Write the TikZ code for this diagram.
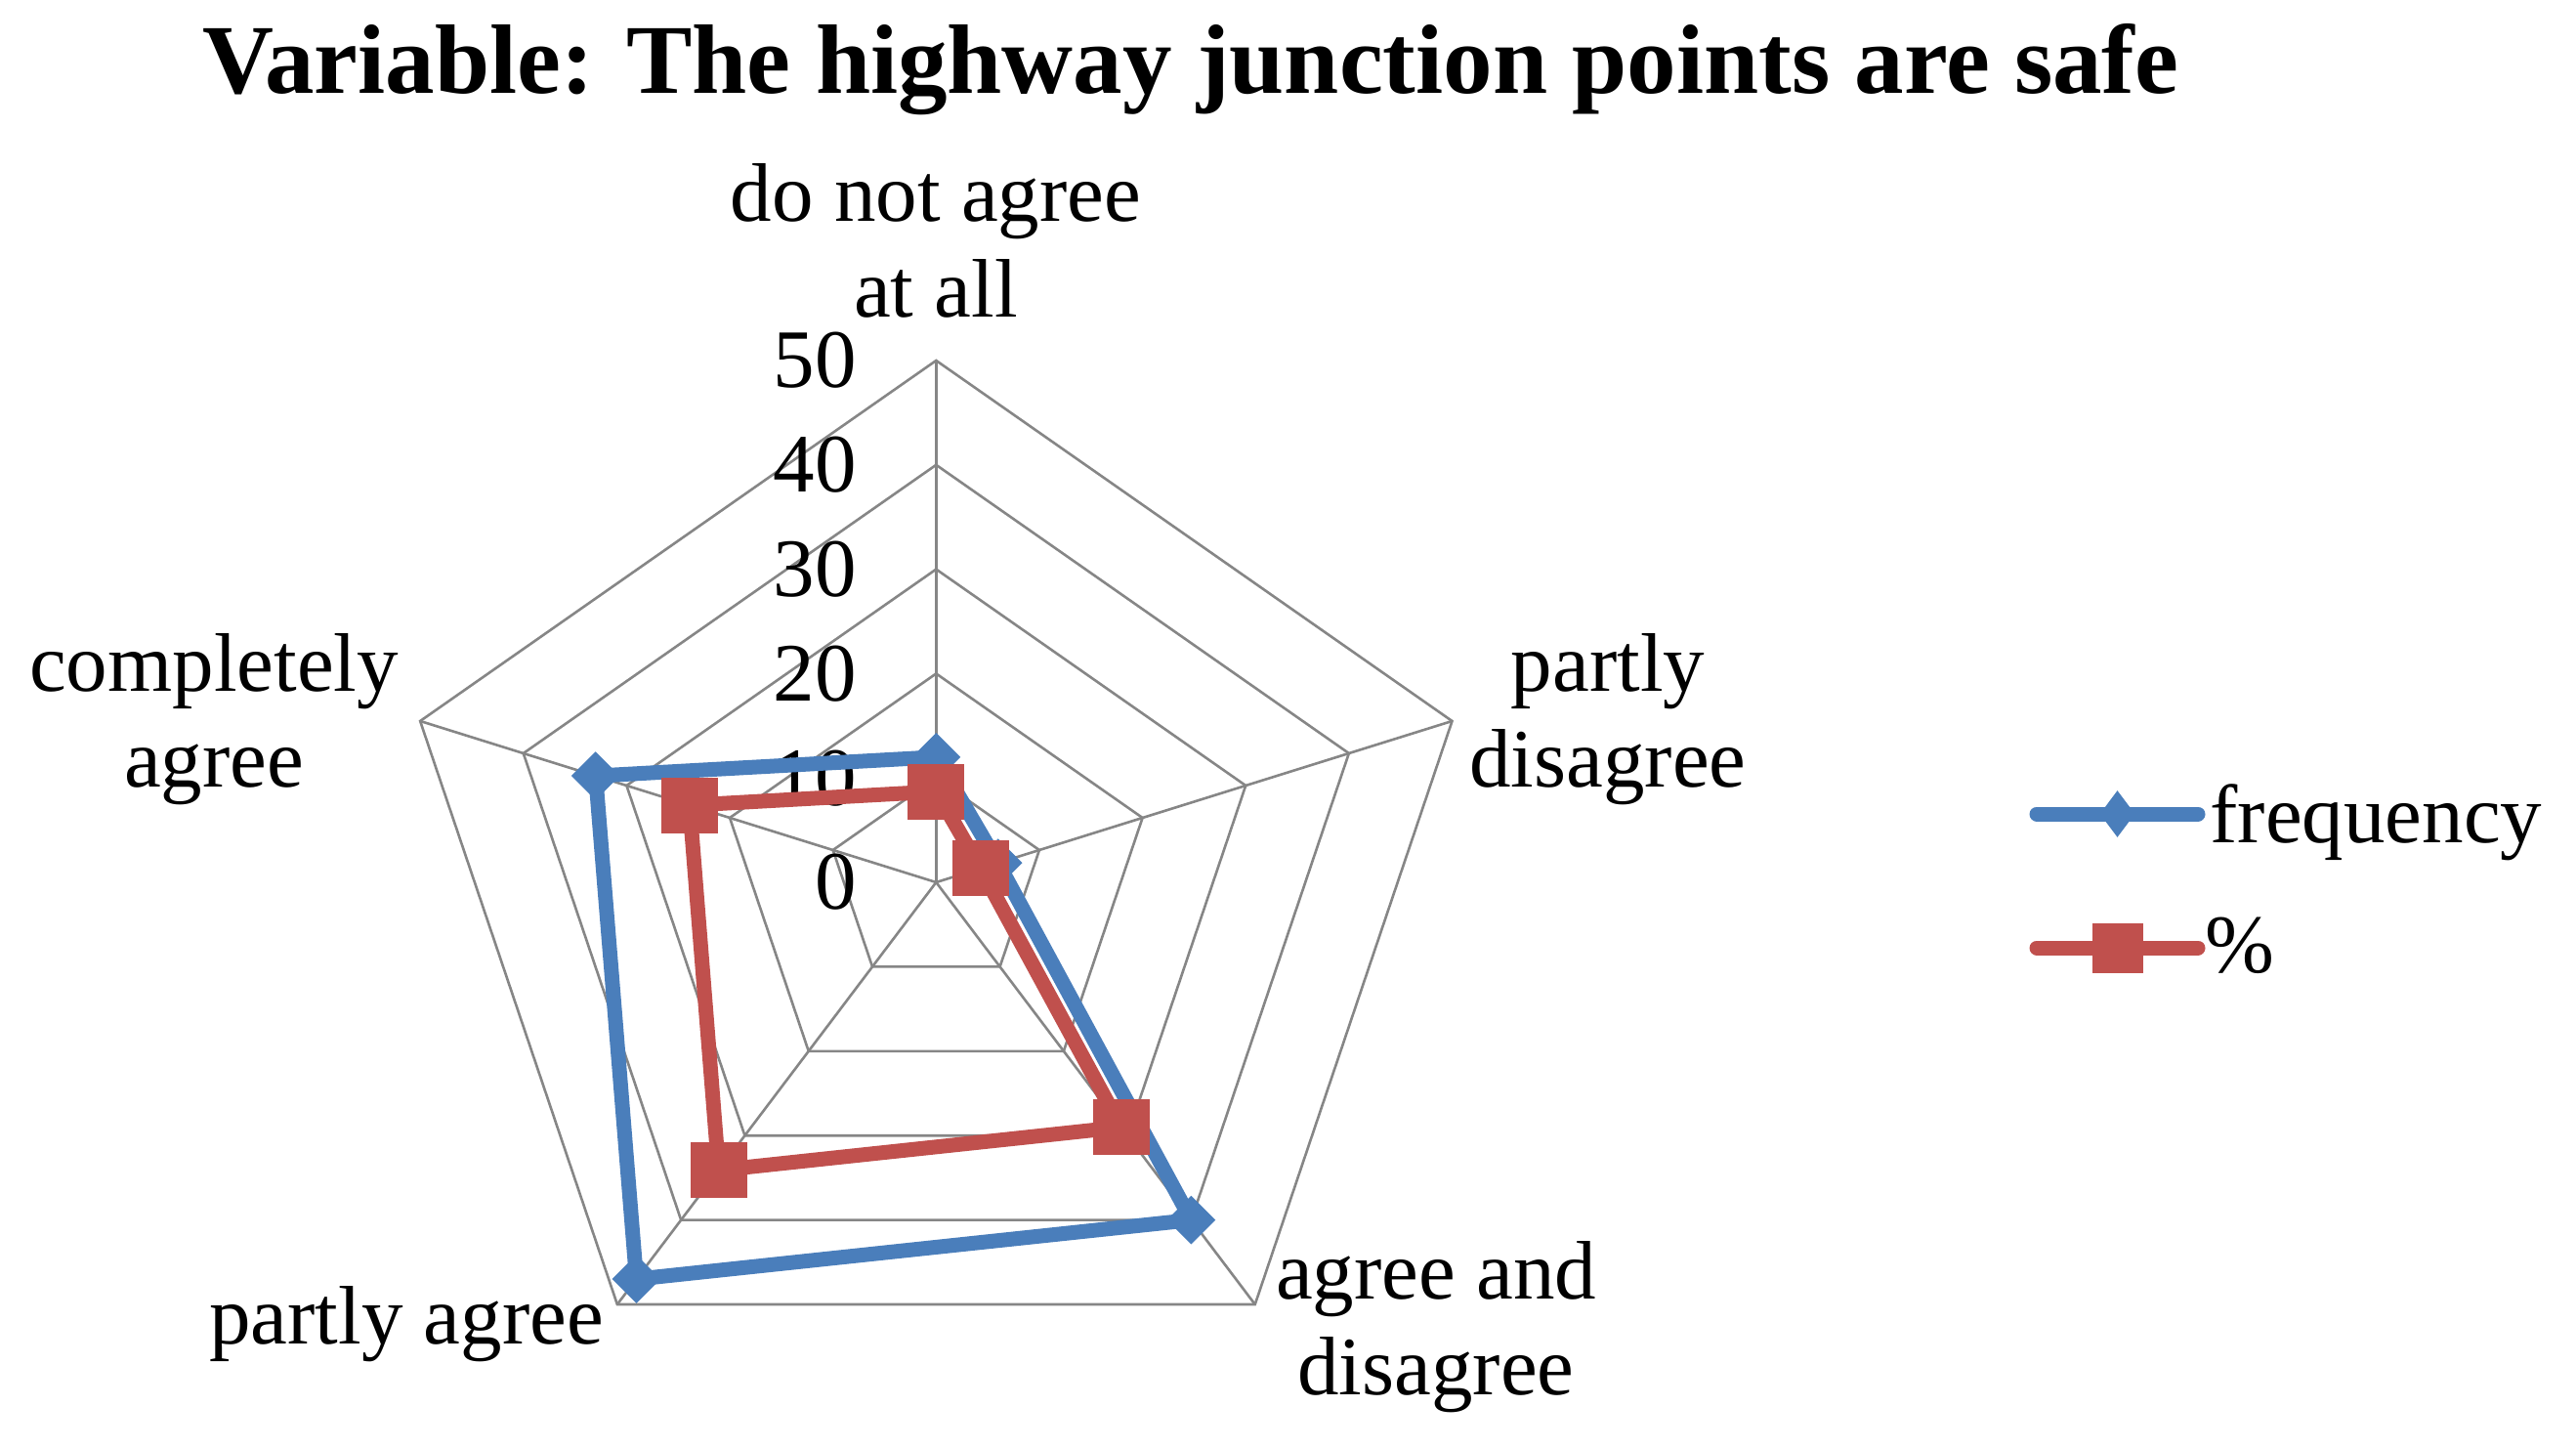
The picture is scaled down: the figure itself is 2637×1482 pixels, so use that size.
\documentclass[tikz,border=0pt]{standalone}
\usepackage{fontspec}
\setmainfont{Liberation Serif}
\usetikzlibrary{calc,shapes.geometric}

\definecolor{gridgray}{RGB}{134,134,134}
\definecolor{freqblue}{RGB}{74,126,187}
\definecolor{pctred}{RGB}{192,80,77}

\begin{document}
\begin{tikzpicture}[x=0.5pt, y=-0.5pt,
    grid/.style={draw=gridgray, line width=1.3pt},
    freq/.style={draw=freqblue, line width=7.5pt, line join=round},
    pct/.style={draw=pctred, line width=7.5pt, line join=round},
    freqmark/.style={diamond, fill=freqblue, inner sep=0pt,
      minimum width=25pt, minimum height=25pt},
    pctmark/.style={rectangle, fill=pctred, inner sep=0pt,
      minimum width=29pt, minimum height=28.5pt},
    label/.style={font=\fontsize{42.5}{49}\selectfont, align=center, inner sep=0pt},
    tick/.style={font=\fontsize{42.5}{49}\selectfont, inner sep=0pt, anchor=east}]
    \useasboundingbox (0,0) rectangle (2637,1482);
    \coordinate (c) at (958.3,903);
    % axes: angle / frequency / percent
    \foreach \a/\f/\p [count=\i] in {90/12/8.7, 18/6/4.3, -54/40/29.0,
        -126/47/34.1, 162/33/23.9} {
      \coordinate (v\i) at ({958.3+1.04*534*cos(\a)}, {903-534*sin(\a)});
      \coordinate (f\i) at ($(c)!\f/50!(v\i)$);
      \coordinate (p\i) at ($(c)!\p/50!(v\i)$);
      \draw[grid] (c) -- (v\i);
    }
    \foreach \k in {1,...,5}
      \draw[grid] ($(c)!\k/5!(v1)$) -- ($(c)!\k/5!(v2)$) -- ($(c)!\k/5!(v3)$)
        -- ($(c)!\k/5!(v4)$) -- ($(c)!\k/5!(v5)$) -- cycle;
    \foreach \n [count=\k from 0] in {0,10,20,30,40,50}
      \node[tick] (t\k) at (877, {903-\k*106.8}) {\n};
    % series
    \draw[freq] (f1) -- (f2) -- (f3) -- (f4) -- (f5) -- cycle;
    \foreach \i in {1,...,5} \node[freqmark] (fm\i) at (f\i) {};
    \draw[pct] (p1) -- (p2) -- (p3) -- (p4) -- (p5) -- cycle;
    \foreach \i in {1,...,5} \node[pctmark] (pm\i) at (p\i) {};
    % category labels (base = last line)
    \node[label, anchor=base] (l1) at (958,324) {do not agree\\at all};
    \node[label, anchor=base] (l2) at (1646,805) {partly\\disagree};
    \node[label, anchor=base] (l3) at (1470,1427) {agree and\\disagree};
    \node[label, anchor=base] (l4) at (416,1375) {partly agree};
    \node[label, anchor=base] (l5) at (219,805) {completely\\agree};
    % title
    \node[font=\fontsize{50.5}{58}\selectfont\bfseries, inner sep=0pt, anchor=base]
      (title) at (1219,96) {Variable: The highway junction points are safe};
    % legend
    \coordinate (lf1) at (2085,833);
    \coordinate (lf2) at (2250,833);
    \coordinate (lp1) at (2085,970);
    \coordinate (lp2) at (2250,970);
    \draw[freq, line cap=round] (lf1) -- (lf2);
    \node[freqmark, minimum width=18pt, minimum height=24pt] (lfm) at ($(lf1)!0.5!(lf2)$) {};
    \draw[pct, line cap=round] (lp1) -- (lp2);
    \node[pctmark, minimum width=26pt, minimum height=25.5pt] (lpm) at ($(lp1)!0.5!(lp2)$) {};
    \node[label, anchor=base west] (lfreq) at (2262,862) {frequency};
    \node[label, anchor=base west] (lpct) at (2257,995) {\%};
\end{tikzpicture}
\end{document}
